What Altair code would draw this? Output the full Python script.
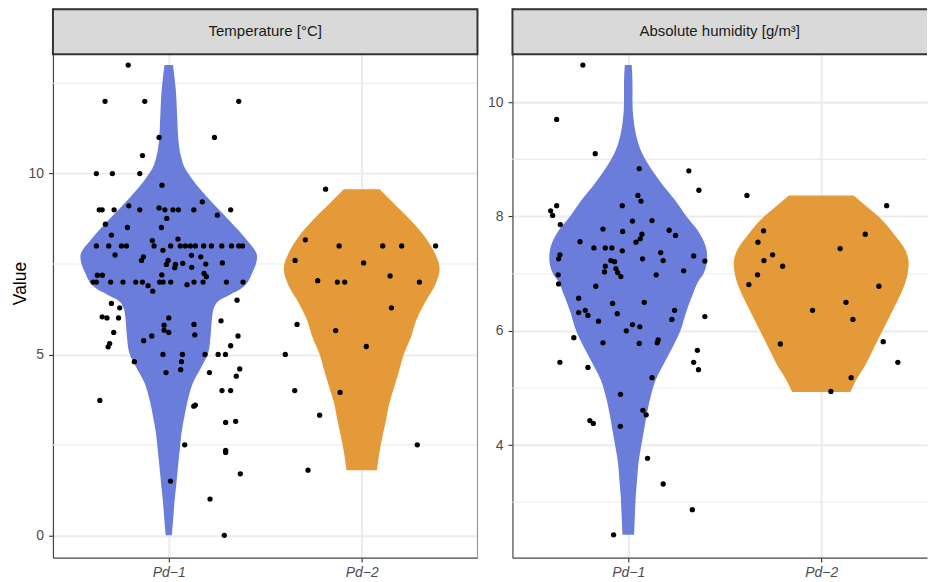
import altair as alt
import pandas as pd

# Categories and fills
groups = ["Pd−1", "Pd−2"]
fills = ["#6a7ddb", "#e49a39"]

# ---- Temperature [°C]: observations and horizontal jitter (category units) ----
temp_pd1_values = [
    13.0, 12.0, 12.0, 12.0, 11.0, 11.0, 10.5, 10.0, 10.0, 10.0, 9.68, 9.22,
    9.0, 9.0, 9.0, 9.11, 9.0, 9.05, 9.0, 9.0, 9.0, 9.0, 9.0,
    8.85, 8.76, 8.6, 8.51, 8.51, 8.3, 8.15, 8.19,
    8.0, 8.0, 8.0, 8.0, 8.0, 8.0, 8.0, 8.0, 8.0, 8.0, 8.0, 8.0, 8.0, 8.0, 8.0, 8.0,
    7.88, 7.75, 7.74, 7.7, 7.7, 7.6, 7.6, 7.53, 7.49, 7.4, 7.52, 7.41, 7.5, 7.49, 7.19, 7.19, 7.2, 7.24, 7.15,
    7.0, 7.0, 7.0, 7.0, 7.0, 7.0, 7.0, 7.0, 7.0, 7.0, 7.0, 7.0, 7.0,
    6.9, 6.75, 6.93, 6.41, 6.5,
    6.29, 6.04, 6.01, 6.01, 6.01, 5.81, 5.67, 5.61, 5.83, 5.54, 5.93, 5.61, 5.51, 5.51, 5.38, 5.3, 5.21, 5.24,
    5.0, 5.0, 5.0, 5.0, 5.0, 4.8, 4.8, 4.58, 4.5, 4.5, 4.6, 4.4, 4.0, 4.0, 3.73, 3.57, 3.6, 3.12, 3.15,
    2.5, 2.35, 2.29, 1.7, 1.5, 1.0, 0.0,
]
temp_pd1_jitter = [
    -0.21, -0.33, -0.124, 0.363, -0.05, 0.237, -0.136, -0.375, -0.292, -0.15, -0.035, 0.174,
    -0.36, -0.345, -0.283, -0.207, -0.15, -0.05, -0.02, 0.022, 0.05, 0.13, 0.321,
    0.252, -0.01, -0.328, -0.214, -0.038, -0.297, -0.085, 0.048,
    -0.375, -0.311, -0.245, -0.219, -0.076, 0.010, 0.060, 0.086, 0.112, 0.138, 0.181, 0.221, 0.275, 0.325, 0.363, 0.382,
    -0.03, -0.278, 0.118, 0.166, -0.131, -0.141, -0.003, 0.278, 0.035, 0.031, 0.073, 0.119, 0.192, -0.012, -0.37, -0.344, -0.036, 0.183, 0.195,
    -0.392, -0.375, -0.301, -0.237, -0.171, -0.136, -0.047, -0.029, 0.01, 0.131, 0.178, 0.299, 0.385,
    -0.107, -0.083, 0.095, -0.297, 0.354,
    -0.254, -0.345, -0.32, -0.26, 0.0, -0.024, -0.024, 0.0, 0.131, 0.135, 0.271, -0.285, 0.359, -0.088, -0.13, -0.306, -0.314, 0.321,
    -0.03, 0.071, 0.188, 0.256, 0.294, -0.178, 0.066, 0.062, -0.014, 0.211, 0.368, 0.35, 0.276, 0.321, -0.357, 0.13, 0.138, 0.295, 0.347,
    0.083, 0.295, 0.295, 0.371, 0.009, 0.214, 0.288,
]
temp_pd2_values = [
    9.57, 8.17, 8.0, 8.0, 8.0, 8.0, 7.6, 7.53, 7.17, 7.04, 7.0, 7.0, 7.0,
    6.29, 5.83, 5.66, 5.22, 5.0, 4.0, 3.95, 3.32, 2.5, 1.8,
]
temp_pd2_jitter = [
    -0.187, -0.292, -0.117, 0.109, 0.207, 0.383, -0.345, 0.01, 0.147, -0.228, -0.126, -0.088, 0.299,
    0.154, -0.335, -0.135, 0.024, -0.396, -0.347, -0.112, -0.218, 0.288, -0.278,
]

# ---- Absolute humidity [g/m³]: observations and horizontal jitter ----
hum_pd1_values = [
    10.65, 9.7, 9.1, 8.84, 8.8, 8.46, 8.37, 8.27, 8.19, 8.1, 8.02, 8.19,
    7.86, 7.92, 7.93, 7.78, 7.74, 7.76, 7.67, 7.69, 7.61, 7.55, 7.56,
    7.45, 7.45, 7.45, 7.4, 7.37, 7.33, 7.26, 7.31, 7.23, 7.21, 7.26, 7.23, 7.22,
    7.13, 7.03, 7.09, 7.02, 6.95, 7.05, 6.98, 6.98, 6.82, 6.78, 6.57,
    6.48, 6.5, 6.32, 6.36, 6.27, 6.3, 6.17, 6.36, 6.2, 6.11, 6.07, 6.0, 6.25,
    5.88, 5.79, 5.78, 5.84, 5.79, 5.66, 5.45, 5.45, 5.36, 5.32, 5.18,
    4.89, 4.61, 4.53, 4.43, 4.38, 4.33, 3.77, 3.32, 2.87, 2.43,
]
hum_pd1_jitter = [
    -0.235, -0.371, -0.171, 0.057, 0.314, 0.366, 0.05, 0.066, -0.371, -0.402, -0.392, -0.031,
    -0.352, 0.022, 0.123, -0.131, -0.029, 0.212, 0.245, 0.071, 0.062, 0.04, -0.25,
    -0.178, -0.119, -0.085, -0.031, 0.168, -0.354, -0.361, 0.339, -0.09, -0.071, 0.074, 0.181, 0.397,
    -0.119, -0.123, -0.064, -0.055, -0.038, 0.287, -0.363, 0.145, -0.361, -0.168, -0.257,
    -0.081, 0.083, -0.257, -0.223, -0.209, -0.057, -0.154, 0.24, 0.226, 0.022, 0.06, -0.01, 0.397,
    -0.282, -0.131, 0.057, 0.155, 0.15, 0.358, -0.354, 0.339, -0.209, 0.364, 0.123,
    -0.04, 0.076, 0.093, -0.199, -0.181, -0.041, 0.1, 0.181, 0.332, -0.076,
]
hum_pd2_values = [
    8.37, 8.19, 7.75, 7.69, 7.55, 7.44, 7.33, 7.23, 7.13, 6.98,
    6.81, 6.78, 6.36, 6.5, 6.2, 5.77, 5.81, 5.45, 5.18, 4.94,
]
hum_pd2_jitter = [
    -0.385, 0.339, -0.299, 0.228, -0.328, 0.098, -0.252, -0.297, -0.2, -0.33,
    -0.375, 0.299, -0.045, 0.128, 0.164, -0.212, 0.321, 0.397, 0.155, 0.05,
]

# ---- Violin outlines: level and half-width (category units) ----
temp_pd1_levels = [0.0, 0.51, 0.98, 1.44, 1.9, 2.36, 2.82, 3.28, 3.74, 4.2, 4.66, 5.03, 5.58,
                   6.04, 6.27, 6.5, 6.66, 6.82, 7.28, 7.7, 8.21, 8.67, 9.13, 9.59, 9.86,
                   10.14, 10.51, 11.0, 11.43, 12.35, 13.0]
temp_pd1_half = [0.016, 0.024, 0.031, 0.040, 0.048, 0.057, 0.066, 0.081, 0.099, 0.124, 0.170, 0.204, 0.218,
                 0.225, 0.233, 0.263, 0.32, 0.376, 0.435, 0.458, 0.397, 0.32, 0.237, 0.16, 0.12,
                 0.085, 0.062, 0.049, 0.045, 0.036, 0.022]
temp_pd2_levels = [1.8, 2.26, 2.72, 3.18, 3.65, 4.11, 4.57, 5.03, 5.49, 5.95, 6.41, 6.96,
                   7.37, 7.79, 8.25, 8.71, 9.17, 9.57]
temp_pd2_half = [0.079, 0.091, 0.107, 0.126, 0.143, 0.169, 0.195, 0.22, 0.256, 0.283, 0.325, 0.384,
                 0.404, 0.38, 0.328, 0.254, 0.168, 0.093]
hum_pd1_levels = [2.43, 2.82, 3.11, 3.4, 3.69, 3.98, 4.27, 4.56, 4.85, 5.14, 5.43, 5.72, 6.02,
                  6.31, 6.6, 6.89, 7.0, 7.27, 7.41, 7.7, 8.0, 8.29, 8.58, 8.87, 9.16, 9.45,
                  9.74, 10.0, 10.32, 10.65]
hum_pd1_half = [0.03, 0.035, 0.039, 0.046, 0.053, 0.067, 0.082, 0.097, 0.116, 0.142, 0.185, 0.231, 0.272,
                0.298, 0.33, 0.367, 0.39, 0.409, 0.406, 0.371, 0.302, 0.242, 0.173, 0.112, 0.065, 0.039,
                0.026, 0.022, 0.022, 0.018]
hum_pd2_levels = [4.93, 5.14, 5.43, 5.72, 6.02, 6.31, 6.6, 6.89, 7.18, 7.41, 7.7, 7.94, 8.17, 8.37]
hum_pd2_half = [0.151, 0.181, 0.233, 0.276, 0.32, 0.363, 0.406, 0.44, 0.453, 0.436, 0.375, 0.315, 0.237, 0.168]

# Axis breaks
temp_major = [0, 5, 10]
temp_minor = [2.5, 7.5, 12.5]
hum_major = [4, 6, 8, 10]
hum_minor = [3, 5, 7, 9]

PLOT_H = 504
STRIP_H = 46
FONT = "Liberation Sans"


def point_table(values, jitters):
    rows = []
    for i, g in enumerate(groups):
        for v, j in zip(values[i], jitters[i]):
            rows.append({"group": g, "value": v, "xpos": i + 1 + j})
    return pd.DataFrame(rows)


def violin_table(levels, halves):
    rows = []
    for i, g in enumerate(groups):
        for v, h in zip(levels[i], halves[i]):
            rows.append({"group": g, "value": v, "lo": i + 1 - h, "hi": i + 1 + h})
    return pd.DataFrame(rows)


def panel(title, pts, vio, y_domain, major, minor, x_max, width, y_title, right_border):
    xs = alt.Scale(domain=[0.4, x_max], nice=False, zero=False)
    ys = alt.Scale(domain=y_domain, nice=False, zero=False)
    label_expr = "[" + ",".join("'" + g + "'" for g in groups) + "][datum.value - 1]"
    x_axis = alt.Axis(
        values=[1, 2], labelExpr=label_expr, title=None,
        grid=True, gridColor="#ebebeb", gridWidth=2,
        domainColor="#444444", domainWidth=1.2,
        tickColor="#333333", tickWidth=1.1, tickSize=4.4,
        labelFont=FONT, labelFontSize=14, labelFontStyle="italic",
        labelColor="#4d4d4d", labelPadding=3,
    )
    y_kwargs = dict(
        values=major, grid=True, gridColor="#ebebeb", gridWidth=2,
        domainColor="#444444", domainWidth=1.2,
        tickColor="#333333", tickWidth=1.1, tickSize=4.4,
        labelFont=FONT, labelFontSize=14, labelColor="#4d4d4d", labelPadding=5,
    )
    if y_title:
        y_kwargs.update(
            title=y_title, titleFont=FONT, titleFontSize=17.5, titleFontWeight="normal",
            titleColor="#000000", titleAngle=270, titleX=-27.5, titleY=229,
            titleAlign="center", titleBaseline="alphabetic",
        )
    else:
        y_kwargs.update(title=None)
    y_axis = alt.Axis(**y_kwargs)

    one = pd.DataFrame({"k": [0]})

    # horizontal minor grid lines, placed through the value scale
    minor_grid = alt.Chart(pd.DataFrame({"v": minor})).mark_rule(
        color="#ebebeb", strokeWidth=1.1
    ).encode(y=alt.Y("v:Q", scale=ys, axis=y_axis))

    violin = alt.Chart(vio).mark_area(orient="horizontal", interpolate="monotone").encode(
        y=alt.Y("value:Q", scale=ys, axis=y_axis),
        x=alt.X("lo:Q", scale=xs, axis=x_axis, stack=None),
        x2="hi:Q",
        color=alt.Color("group:N", scale=alt.Scale(domain=groups, range=fills), legend=None),
    )

    dots = alt.Chart(pts).mark_circle(size=28, color="black", opacity=1).encode(
        x=alt.X("xpos:Q", scale=xs, axis=x_axis),
        y=alt.Y("value:Q", scale=ys, axis=y_axis),
    )

    # facet strip above the panel
    strip_bg = alt.Chart(one).mark_rect(fill="#d9d9d9").encode(
        x=alt.value(0), x2=alt.value(width), y=alt.value(-STRIP_H), y2=alt.value(0)
    )
    edge = dict(color="#333333", strokeWidth=2)
    strip_top = alt.Chart(one).mark_rule(**edge).encode(
        x=alt.value(0), x2=alt.value(width), y=alt.value(-STRIP_H + 1)
    )
    strip_bottom = alt.Chart(one).mark_rule(**edge).encode(
        x=alt.value(0), x2=alt.value(width), y=alt.value(0)
    )
    strip_left = alt.Chart(one).mark_rule(**edge).encode(
        x=alt.value(0), y=alt.value(-STRIP_H), y2=alt.value(1)
    )
    strip_text = alt.Chart(one).mark_text(
        font=FONT, fontSize=15, color="#1a1a1a", baseline="middle", align="center"
    ).encode(x=alt.value(width / 2), y=alt.value(-STRIP_H / 2), text=alt.value(title))

    layers = [minor_grid, violin, dots, strip_bg, strip_top, strip_bottom, strip_left]
    if right_border:
        layers.append(alt.Chart(one).mark_rule(color="#999999", strokeWidth=1.2).encode(
            x=alt.value(width), y=alt.value(0), y2=alt.value(PLOT_H)
        ))
        layers.append(alt.Chart(one).mark_rule(**edge).encode(
            x=alt.value(width), y=alt.value(-STRIP_H), y2=alt.value(1)
        ))
    layers.append(strip_text)
    return alt.layer(*layers).properties(width=width, height=PLOT_H)


temp_panel = panel(
    "Temperature [°C]",
    point_table([temp_pd1_values, temp_pd2_values], [temp_pd1_jitter, temp_pd2_jitter]),
    violin_table([temp_pd1_levels, temp_pd2_levels], [temp_pd1_half, temp_pd2_half]),
    [-0.62, 13.3], temp_major, temp_minor, 2.6, 425, "Value", True,
)
hum_panel = panel(
    "Absolute humidity [g/m³]",
    point_table([hum_pd1_values, hum_pd2_values], [hum_pd1_jitter, hum_pd2_jitter]),
    violin_table([hum_pd1_levels, hum_pd2_levels], [hum_pd1_half, hum_pd2_half]),
    [2.03, 10.84], hum_major, hum_minor, 2.548, 415, None, False,
)

chart = alt.hconcat(temp_panel, hum_panel, spacing=35, bounds="flush").properties(
    padding={"left": 11, "top": 7, "right": 0, "bottom": 0},
    background="white",
).configure_view(stroke=None)

chart.save("out.html", embed_options={"renderer": "svg", "actions": False})
